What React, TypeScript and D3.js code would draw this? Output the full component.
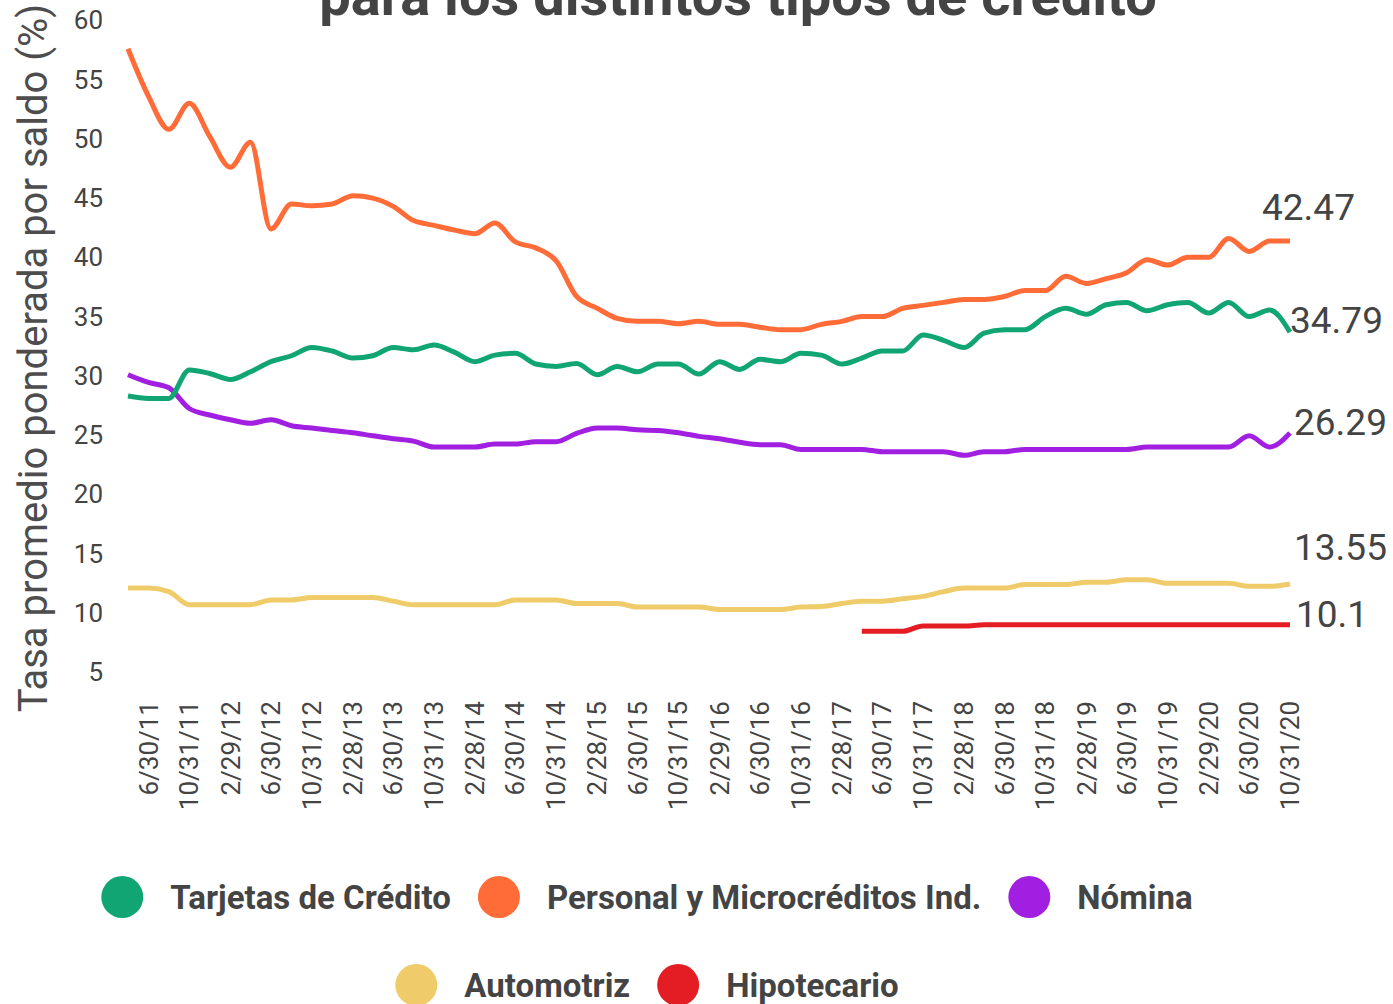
import React, { useEffect, useRef } from 'react';
import * as d3 from 'd3';

// series, one value every two months from 4/2011 to 10/2020
const seriesNames = [
  'Tarjetas de Crédito',
  'Personal y Microcréditos Ind.',
  'Nómina',
  'Automotriz',
  'Hipotecario',
];
const seriesColors = ['#12a574', '#ff6c37', '#a11fe0', '#f0cb69', '#e31d23'];

const tarjetas = [
  29.4, 29.2, 29.2, 31.6, 31.3, 30.8, 31.45, 32.3, 32.8, 33.5,
  33.2, 32.6, 32.8, 33.5, 33.3, 33.7, 33.1, 32.3, 32.85, 33.0,
  32.1, 31.9, 32.15, 31.2, 31.9, 31.45, 32.1, 32.1, 31.25, 32.3,
  31.65, 32.5, 32.3, 33.0, 32.85, 32.1, 32.6, 33.2, 33.2, 34.55,
  34.1, 33.5, 34.7, 35.0, 35.0, 36.1, 36.8, 36.3, 37.1, 37.3,
  36.6, 37.1, 37.3, 36.4, 37.3, 36.1, 36.65, 34.79,
];
const personal = [
  58.7, 54.7, 51.9, 54.1, 51.3, 48.7, 50.8, 43.5, 45.6, 45.45,
  45.6, 46.3, 46.1, 45.4, 44.2, 43.8, 43.4, 43.1, 44.0, 42.4,
  41.9, 40.8, 37.8, 36.8, 35.95, 35.7, 35.7, 35.5, 35.7, 35.45,
  35.45, 35.2, 35.0, 35.0, 35.45, 35.7, 36.1, 36.1, 36.8, 37.05,
  37.3, 37.55, 37.55, 37.8, 38.3, 38.3, 39.5, 38.9, 39.3, 39.8,
  40.9, 40.45, 41.1, 41.1, 42.7, 41.6, 42.47, 42.47,
];
const nomina = [
  31.2, 30.55, 30.1, 28.35, 27.8, 27.4, 27.1, 27.4, 26.9, 26.7,
  26.5, 26.3, 26.05, 25.8, 25.6, 25.1, 25.1, 25.1, 25.35, 25.35,
  25.55, 25.55, 26.25, 26.7, 26.7, 26.55, 26.5, 26.3, 26.0, 25.8,
  25.5, 25.3, 25.3, 24.9, 24.9, 24.9, 24.9, 24.7, 24.7, 24.7,
  24.7, 24.4, 24.7, 24.7, 24.9, 24.9, 24.9, 24.9, 24.9, 24.9,
  25.1, 25.1, 25.1, 25.1, 25.1, 26.05, 25.1, 26.29,
];
const automotriz = [
  13.2, 13.2, 12.9, 11.8, 11.8, 11.8, 11.8, 12.2, 12.2, 12.4,
  12.4, 12.4, 12.4, 12.1, 11.8, 11.8, 11.8, 11.8, 11.8, 12.2,
  12.2, 12.2, 11.9, 11.9, 11.9, 11.6, 11.6, 11.6, 11.6, 11.4,
  11.4, 11.4, 11.4, 11.6, 11.65, 11.9, 12.1, 12.1, 12.3, 12.5,
  12.9, 13.2, 13.2, 13.2, 13.5, 13.5, 13.5, 13.7, 13.7, 13.9,
  13.9, 13.6, 13.6, 13.6, 13.6, 13.35, 13.35, 13.55,
];
const hipotecario = [
  null, null, null, null, null, null, null, null, null, null,
  null, null, null, null, null, null, null, null, null, null,
  null, null, null, null, null, null, null, null, null, null,
  null, null, null, null, null, null, 9.55, 9.55, 9.55, 10.0,
  10.0, 10.0, 10.1, 10.1, 10.1, 10.1, 10.1, 10.1, 10.1, 10.1,
  10.1, 10.1, 10.1, 10.1, 10.1, 10.1, 10.1, 10.1,
];

const xTickLabels = [
  '6/30/11', '10/31/11', '2/29/12', '6/30/12', '10/31/12', '2/28/13',
  '6/30/13', '10/31/13', '2/28/14', '6/30/14', '10/31/14', '2/28/15',
  '6/30/15', '10/31/15', '2/29/16', '6/30/16', '10/31/16', '2/28/17',
  '6/30/17', '10/31/17', '2/28/18', '6/30/18', '10/31/18', '2/28/19',
  '6/30/19', '10/31/19', '2/29/20', '6/30/20', '10/31/20',
];
const yTicks = [5, 10, 15, 20, 25, 30, 35, 40, 45, 50, 55, 60];

// where each final value label sits relative to the end of its line
const endLabelOffset = [
  [0, 1],
  [-28, -21],
  [4, 2],
  [4, -24],
  [6, 2],
];

const W = 1393;
const H = 1004;
const TEXT = '#444';

export default function App() {
  const svgRef = useRef(null);

  useEffect(() => {
    const svg = d3.select(svgRef.current);
    svg.selectAll('*').remove();

    const allSeries = [tarjetas, personal, nomina, automotriz, hipotecario];
    const dates = d3.timeMonth.range(new Date(2011, 3, 1), new Date(2020, 10, 1), 2);

    const x = d3
      .scaleTime()
      .domain([new Date(2011, 3, 1), new Date(2020, 9, 1)])
      .range([128, 1290]);
    const y = d3.scaleLinear().domain([5, 60]).range([685.3, 33.3]);

    // title (first line is off the top of the picture, as in the original)
    svg
      .append('text')
      .attr('x', 738)
      .attr('y', 15)
      .attr('text-anchor', 'middle')
      .style('font', '700 56px Roboto')
      .style('fill', TEXT)
      .text('para los distintos tipos de crédito');

    // y axis labels
    svg
      .selectAll('.ytick')
      .data(yTicks)
      .join('text')
      .attr('class', 'ytick')
      .attr('x', 103)
      .attr('y', (d) => y(d) - 4)
      .attr('text-anchor', 'end')
      .style('font', '400 26px Roboto')
      .style('fill', TEXT)
      .text((d) => d);

    svg
      .append('text')
      .attr('transform', 'translate(47,358) rotate(-90)')
      .attr('text-anchor', 'middle')
      .style('font', '400 40px Roboto')
      .style('fill', '#4d4d4d')
      .text('Tasa promedio ponderada por saldo (%)');

    // x axis labels
    const parse = d3.timeParse('%m/%d/%y');
    svg
      .selectAll('.xtick')
      .data(xTickLabels)
      .join('text')
      .attr('class', 'xtick')
      .attr('transform', (d) => {
        const t = d3.timeMonth.floor(parse(d));
        return `translate(${x(t)},701) rotate(-90)`;
      })
      .attr('dy', '0.35em')
      .attr('text-anchor', 'end')
      .style('font', '400 26px Roboto')
      .style('fill', TEXT)
      .text((d) => d);

    // lines
    const line = d3
      .line()
      .defined((d) => d != null)
      .x((d, i) => x(dates[i]))
      .y((d) => y(d))
      .curve(d3.curveMonotoneX);

    const drawOrder = [3, 4, 2, 0, 1];
    drawOrder.forEach((s) => {
      svg
        .append('path')
        .datum(allSeries[s])
        .attr('d', line)
        .attr('fill', 'none')
        .attr('stroke', seriesColors[s])
        .attr('stroke-width', 5)
        .attr('stroke-linejoin', 'round');
    });

    // final values
    allSeries.forEach((vals, s) => {
      const last = vals[vals.length - 1];
      svg
        .append('text')
        .attr('x', x(dates[vals.length - 1]) + endLabelOffset[s][0])
        .attr('y', y(last) + endLabelOffset[s][1])
        .style('font', '400 37px Roboto')
        .style('fill', TEXT)
        .text(String(last));
    });

    // legend, two centred rows
    const rows = [
      [0, 1, 2],
      [3, 4],
    ];
    const rowY = [897, 985];
    const r = 21;
    const gap = 27;
    rows.forEach((row, ri) => {
      const g = svg.append('g');
      const items = row.map((s) => {
        const t = g
          .append('text')
          .attr('dy', '0.35em')
          .attr('y', rowY[ri])
          .style('font', '700 33px Roboto')
          .style('fill', TEXT)
          .text(seriesNames[s]);
        const c = g
          .append('circle')
          .attr('cy', rowY[ri])
          .attr('r', r)
          .attr('fill', seriesColors[s]);
        return { t, c, w: t.node().getComputedTextLength() };
      });
      const total =
        d3.sum(items, (it) => 2 * r + gap + it.w) + gap * (items.length - 1);
      let cx = 647 - total / 2;
      items.forEach((it) => {
        it.c.attr('cx', cx + r);
        it.t.attr('x', cx + 2 * r + gap);
        cx += 2 * r + gap + it.w + gap;
      });
    });
  }, []);

  return (
    <div style={{ position: 'absolute', left: 0, top: 0 }}>
      <svg ref={svgRef} width={W} height={H} style={{ display: 'block', background: '#fff' }} />
    </div>
  );
}
